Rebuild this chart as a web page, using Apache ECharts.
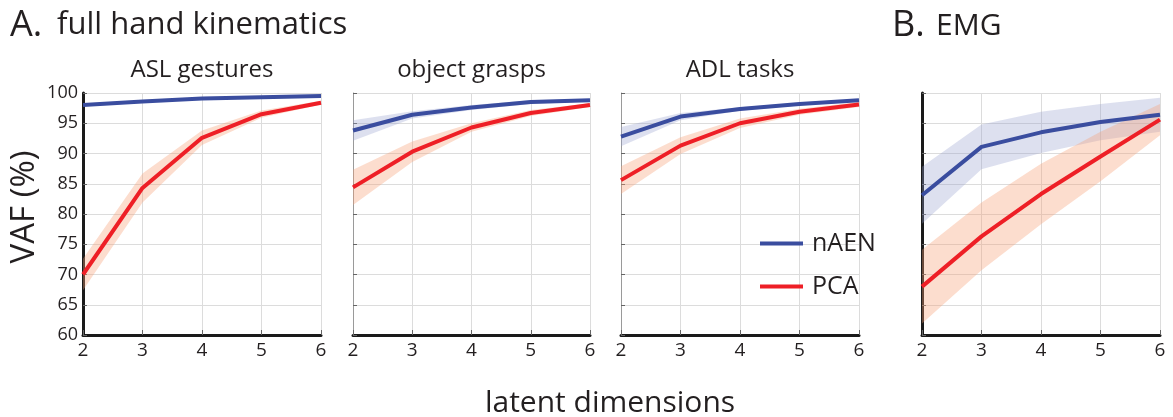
<!DOCTYPE html>
<html>
<head>
<meta charset="utf-8">
<script src="https://cdn.jsdelivr.net/npm/echarts@6/dist/echarts.min.js"></script>
<style>
  html, body { margin: 0; padding: 0; background: #ffffff; }
  #chart { width: 1173px; height: 417px; }
</style>
</head>
<body>
<div id="chart"></div>
<script>
// Latent dimensions on the x axis
const dims = [2, 3, 4, 5, 6];

// ASL gestures: variance accounted for (%) mean and spread
const aslAenMean = [98.0, 98.6, 99.1, 99.3, 99.5];
const aslAenSd   = [0.25, 0.2, 0.15, 0.1, 0.1];
const aslPcaMean = [70.0, 84.3, 92.6, 96.5, 98.4];
const aslPcaSd   = [2.6, 2.4, 1.2, 0.6, 0.3];

// Object grasps
const graspAenMean = [93.8, 96.4, 97.6, 98.5, 98.8];
const graspAenSd   = [1.7, 0.6, 0.4, 0.3, 0.2];
const graspPcaMean = [84.4, 90.3, 94.3, 96.7, 98.0];
const graspPcaSd   = [2.9, 1.7, 0.7, 0.5, 0.3];

// ADL tasks
const adlAenMean = [92.8, 96.1, 97.35, 98.2, 98.8];
const adlAenSd   = [1.6, 0.6, 0.3, 0.25, 0.2];
const adlPcaMean = [85.6, 91.3, 95.0, 96.9, 98.1];
const adlPcaSd   = [2.3, 1.4, 0.8, 0.5, 0.4];

// EMG
const emgAenMean = [83.1, 91.1, 93.5, 95.2, 96.4];
const emgAenSd   = [4.7, 3.7, 3.4, 3.0, 2.8];
const emgPcaMean = [68.0, 76.3, 83.3, 89.5, 95.6];
const emgPcaSd   = [6.1, 5.6, 5.0, 4.1, 2.6];

const yTicks = { min: 60, max: 100, interval: 5 };
const panelTitles = ['ASL gestures', 'object grasps', 'ADL tasks', ''];

const FONT = '"Open Sans", "Noto Sans", sans-serif';
const TEXT_COLOR = '#231f20';
const AEN_COLOR = '#3a4d9f';
const PCA_COLOR = '#ee1f26';
const AEN_BAND = 'rgba(150,158,205,0.32)';
const PCA_BAND = 'rgba(247,160,120,0.36)';

const panels = [
  { aen: aslAenMean, aenSd: aslAenSd, pca: aslPcaMean, pcaSd: aslPcaSd, left: 83, width: 238, yLabels: true, boldY: true },
  { aen: graspAenMean, aenSd: graspAenSd, pca: graspPcaMean, pcaSd: graspPcaSd, left: 353, width: 237, yLabels: false, boldY: false },
  { aen: adlAenMean, aenSd: adlAenSd, pca: adlPcaMean, pcaSd: adlPcaSd, left: 621, width: 238, yLabels: false, boldY: false },
  { aen: emgAenMean, aenSd: emgAenSd, pca: emgPcaMean, pcaSd: emgPcaSd, left: 922, width: 238, yLabels: false, boldY: true }
];
const GRID_TOP = 93, GRID_H = 242;

// Shaded band between mean - sd and mean + sd, mapped through the panel's axes
function bandSeries(idx, mean, sd, fill) {
  const lo = mean.map((m, i) => m - sd[i]);
  const hi = mean.map((m, i) => m + sd[i]);
  return {
    type: 'custom',
    xAxisIndex: idx,
    yAxisIndex: idx,
    silent: true,
    z: 1,
    encode: { x: 0, y: [1, 2] },
    data: dims.map((x, i) => [x, lo[i], hi[i]]),
    renderItem: function (params, api) {
      if (params.dataIndex !== 0) return null;
      const pts = [];
      for (let i = 0; i < dims.length; i++) pts.push(api.coord([dims[i], hi[i]]));
      for (let i = dims.length - 1; i >= 0; i--) pts.push(api.coord([dims[i], lo[i]]));
      return { type: 'polygon', shape: { points: pts }, style: { fill: fill, stroke: null } };
    }
  };
}

function lineSeries(idx, name, mean, color, z) {
  return {
    type: 'line',
    name: name,
    xAxisIndex: idx,
    yAxisIndex: idx,
    data: dims.map((x, i) => [x, mean[i]]),
    showSymbol: false,
    symbol: 'none',
    silent: true,
    z: z,
    itemStyle: { color: color },
    lineStyle: { color: color, width: 4 }
  };
}

const grids = [], xAxes = [], yAxes = [], series = [];
panels.forEach((p, i) => {
  grids.push({ left: p.left, top: GRID_TOP, width: p.width, height: GRID_H, containLabel: false });
  xAxes.push({
    type: 'value', gridIndex: i, min: dims[0], max: dims[dims.length - 1], interval: 1,
    axisLine: { show: true, onZero: false, lineStyle: { color: '#1a1a1a', width: 3 } },
    axisTick: { show: true, inside: true, length: 5, lineStyle: { color: '#666', width: 1 } },
    axisLabel: { fontSize: 19, color: TEXT_COLOR, fontFamily: FONT, margin: 6 },
    splitLine: { show: true, lineStyle: { color: '#dcdcdc', width: 1 } }
  });
  yAxes.push({
    type: 'value', gridIndex: i, min: yTicks.min, max: yTicks.max, interval: yTicks.interval,
    axisLine: { show: true, onZero: false, lineStyle: p.boldY ? { color: '#1a1a1a', width: 3 } : { color: '#9a9a9a', width: 1 } },
    axisTick: { show: true, inside: true, length: 4, lineStyle: { color: '#666', width: 1 } },
    axisLabel: { show: p.yLabels, fontSize: 18, color: TEXT_COLOR, fontFamily: FONT, margin: 5 },
    splitLine: { show: true, lineStyle: { color: '#dcdcdc', width: 1 } }
  });
  series.push(bandSeries(i, p.aen, p.aenSd, AEN_BAND));
  series.push(bandSeries(i, p.pca, p.pcaSd, PCA_BAND));
  series.push(lineSeries(i, 'nAEN', p.aen, AEN_COLOR, 3));
  series.push(lineSeries(i, 'PCA', p.pca, PCA_COLOR, 4));
});

const graphics = [
  { type: 'text', left: 10, top: 8, style: { text: 'A.', font: '36px ' + FONT, fill: TEXT_COLOR } },
  { type: 'text', left: 57, top: 10, style: { text: 'full hand kinematics', font: '31px ' + FONT, fill: TEXT_COLOR } },
  { type: 'text', left: 892, top: 8, style: { text: 'B.', font: '36px ' + FONT, fill: TEXT_COLOR } },
  { type: 'text', left: 936, top: 11, style: { text: 'EMG', font: '30px ' + FONT, fill: TEXT_COLOR } },
  {
    type: 'text', x: 25, y: 207, rotation: Math.PI / 2,
    style: { text: 'VAF (%)', font: '33px ' + FONT, fill: TEXT_COLOR, align: 'center', verticalAlign: 'middle' }
  },
  {
    type: 'text', x: 610, y: 403,
    style: { text: 'latent dimensions', font: '30px ' + FONT, fill: TEXT_COLOR, align: 'center', verticalAlign: 'middle' }
  }
];
panels.forEach((p, i) => {
  if (!panelTitles[i]) return;
  graphics.push({
    type: 'text', x: p.left + p.width / 2, y: 70,
    style: { text: panelTitles[i], font: '24px ' + FONT, fill: TEXT_COLOR, align: 'center', verticalAlign: 'middle' }
  });
});

const chart = echarts.init(document.getElementById('chart'), null, { renderer: 'canvas' });
chart.setOption({
  backgroundColor: '#ffffff',
  animation: false,
  grid: grids,
  xAxis: xAxes,
  yAxis: yAxes,
  legend: {
    data: ['nAEN', 'PCA'],
    orient: 'vertical',
    left: 760,
    top: 231,
    padding: 0,
    icon: 'rect',
    itemWidth: 43,
    itemHeight: 4,
    itemGap: 18,
    selectedMode: false,
    textStyle: { fontSize: 25, lineHeight: 25, color: TEXT_COLOR, fontFamily: FONT, padding: [0, 0, 0, 4] }
  },
  graphic: graphics,
  series: series
});
</script>
</body>
</html>
